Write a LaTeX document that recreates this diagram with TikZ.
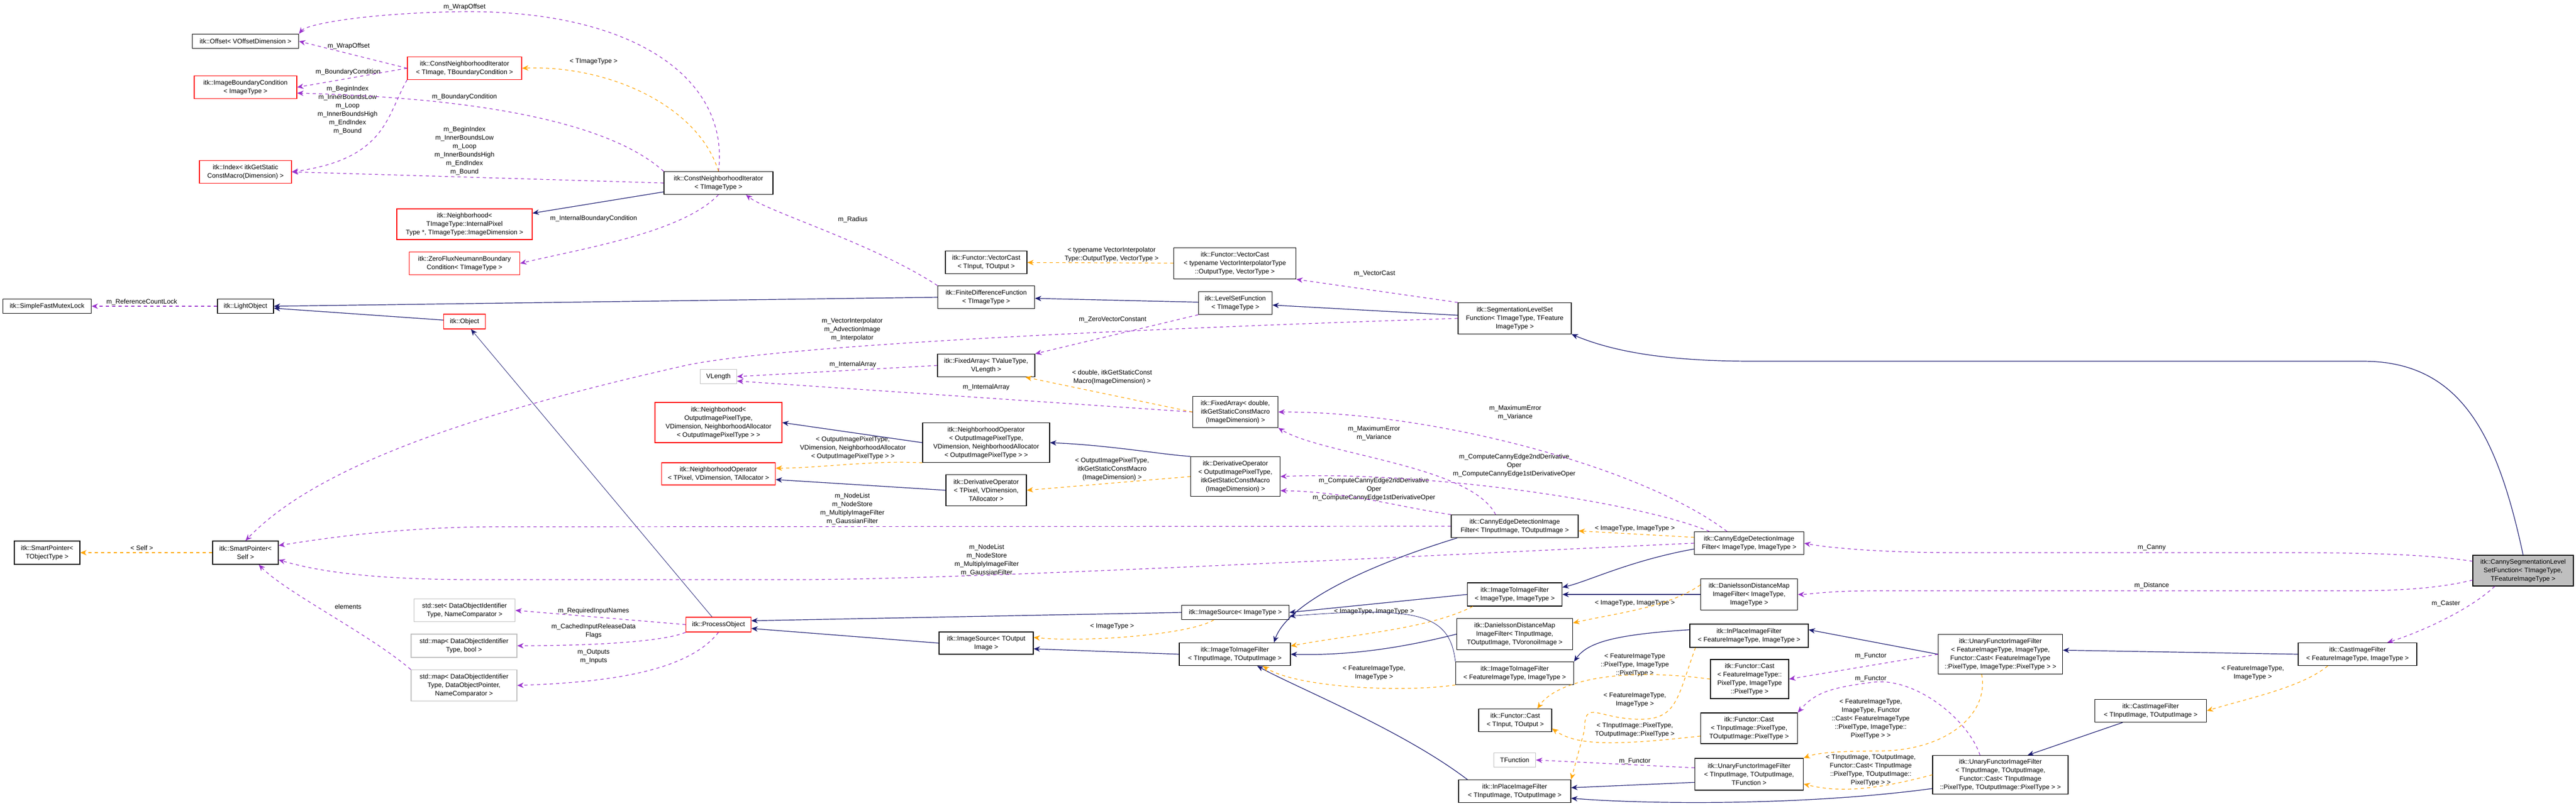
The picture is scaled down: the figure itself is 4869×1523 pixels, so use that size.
\documentclass[tikz,border=0pt]{standalone}
\usepackage{fontspec}
\setmainfont{Liberation Sans}
\usetikzlibrary{arrows.meta,calc}
\definecolor{navy}{RGB}{25,25,112}
\definecolor{usec}{RGB}{153,50,204}
\definecolor{tmplc}{RGB}{255,165,0}
\definecolor{grayb}{RGB}{191,191,191}
\tikzset{
  box/.style={draw=black,fill=white,line width=0.6pt,align=center,inner sep=1pt,font=\fontsize{6.2}{8}\selectfont},
  redbox/.style={box,draw=red},
  graybox/.style={box,draw=grayb},
  wh/.style 2 args={minimum width=#1*0.5pt,minimum height=#2*0.5pt},
  lbl/.style={align=center,inner sep=0pt,font=\fontsize{6.2}{8}\selectfont},
  inh/.style={draw=navy,line width=0.6pt,-{Stealth[length=6pt,width=5pt]}},
  use/.style={draw=usec,dashed,line width=0.6pt,-{Stealth[length=6pt,width=5pt]}},
  tmpl/.style={draw=tmplc,dashed,line width=0.6pt,-{Stealth[length=6pt,width=5pt]}},
}
\begin{document}
\begin{tikzpicture}[x=0.5pt,y=-0.5pt]
\useasboundingbox[fill=white] (0,0) rectangle (4869,1523);
% nodes
\node[box,wh={201}{27}] (off) at (464,78) {itk::Offset< VOffsetDimension >};
\node[redbox,wh={216}{43}] (cnib) at (878,129) {itk::ConstNeighborhoodIterator\\< TImage, TBoundaryCondition >};
\node[redbox,wh={194}{43}] (ibc) at (464,165) {itk::ImageBoundaryCondition\\< ImageType >};
\node[redbox,wh={174}{43}] (idx) at (464,325) {itk::Index< itkGetStatic\\ConstMacro(Dimension) >};
\node[box,wh={206}{43}] (cni) at (1358,346) {itk::ConstNeighborhoodIterator\\< TImageType >};
\node[redbox,wh={256}{58}] (nbh) at (878,424) {itk::Neighborhood<\\ TImageType::InternalPixel\\Type *, TImageType::ImageDimension >};
\node[redbox,wh={209}{43}] (zfn) at (878,498) {itk::ZeroFluxNeumannBoundary\\Condition< TImageType >};
\node[box,wh={167}{27}] (sfml) at (89,579) {itk::SimpleFastMutexLock};
\node[box,wh={106}{27}] (lo) at (464,579) {itk::LightObject};
\node[redbox,wh={79}{28}] (obj) at (878,608) {itk::Object};
\node[graybox,wh={69}{27}] (vlen) at (1358,712) {VLength};
\node[redbox,wh={240}{76}] (nbh2) at (1358,799) {itk::Neighborhood<\\ OutputImagePixelType,\\ VDimension, NeighborhoodAllocator\\< OutputImagePixelType > >};
\node[redbox,wh={215}{42}] (nopT) at (1358,896) {itk::NeighborhoodOperator\\< TPixel, VDimension, TAllocator >};
\node[box,wh={124}{44}] (spT) at (89,1045) {itk::SmartPointer<\\ TObjectType >};
\node[box,wh={124}{44}] (sps) at (464,1045) {itk::SmartPointer<\\ Self >};
\node[graybox,wh={191}{43}] (sset) at (878,1154) {std::set< DataObjectIdentifier\\Type, NameComparator >};
\node[graybox,wh={200}{44}] (smapb) at (877,1221) {std::map< DataObjectIdentifier\\Type, bool >};
\node[graybox,wh={200}{59}] (smapp) at (877,1296) {std::map< DataObjectIdentifier\\Type, DataObjectPointer,\\ NameComparator >};
\node[redbox,wh={123}{28}] (po) at (1358,1181) {itk::ProcessObject};
\node[box,wh={154}{43}] (fvcT) at (1864,496) {itk::Functor::VectorCast\\< TInput, TOutput >};
\node[box,wh={231}{59}] (fvc) at (2334,498) {itk::Functor::VectorCast\\< typename VectorInterpolatorType\\::OutputType, VectorType >};
\node[box,wh={183}{43}] (fdf) at (1864,562) {itk::FiniteDifferenceFunction\\< TImageType >};
\node[box,wh={139}{43}] (lsf) at (2335,573) {itk::LevelSetFunction\\< TImageType >};
\node[box,wh={214}{59}] (slsf) at (2863,602) {itk::SegmentationLevelSet\\Function< TImageType, TFeature\\ImageType >};
\node[box,wh={184}{43}] (faT) at (1864,691) {itk::FixedArray< TValueType,\\ VLength >};
\node[box,wh={161}{59}] (fad) at (2335,779) {itk::FixedArray< double,\\ itkGetStaticConstMacro\\(ImageDimension) >};
\node[box,wh={240}{75}] (nopO) at (1864,837) {itk::NeighborhoodOperator\\< OutputImagePixelType,\\ VDimension, NeighborhoodAllocator\\< OutputImagePixelType > >};
\node[box,wh={152}{59}] (dopT) at (1864,927) {itk::DerivativeOperator\\< TPixel, VDimension,\\ TAllocator >};
\node[box,wh={169}{75}] (dopO) at (2335,901) {itk::DerivativeOperator\\< OutputImagePixelType,\\ itkGetStaticConstMacro\\(ImageDimension) >};
\node[box,wh={240}{43}] (ceT) at (2863,995) {itk::CannyEdgeDetectionImage\\Filter< TInputImage, TOutputImage >};
\node[box,wh={179}{44}] (itiII) at (2863,1124) {itk::ImageToImageFilter\\< ImageType, ImageType >};
\node[box,wh={203}{27}] (isI) at (2335,1158) {itk::ImageSource< ImageType >};
\node[box,wh={219}{59}] (daT) at (2863,1199) {itk::DanielssonDistanceMap\\ImageFilter< TInputImage,\\ TOutputImage, TVoronoiImage >};
\node[box,wh={178}{42}] (isT) at (1864,1216) {itk::ImageSource< TOutput\\Image >};
\node[box,wh={210}{43}] (itiT) at (2334,1237) {itk::ImageToImageFilter\\< TInputImage, TOutputImage >};
\node[box,wh={223}{43}] (itiF) at (2863,1273) {itk::ImageToImageFilter\\< FeatureImageType, ImageType >};
\node[box,wh={138}{43}] (fcT) at (2864,1362) {itk::Functor::Cast\\< TInput, TOutput >};
\node[graybox,wh={79}{27}] (tfun) at (2863,1437) {TFunction};
\node[box,wh={212}{43}] (ipT) at (2863,1496) {itk::InPlaceImageFilter\\< TInputImage, TOutputImage >};
\node[box,wh={207}{43}] (ceI) at (3306,1027) {itk::CannyEdgeDetectionImage\\Filter< ImageType, ImageType >};
\node[box,wh={183}{59}] (daI) at (3306,1124) {itk::DanielssonDistanceMap\\ImageFilter< ImageType,\\ ImageType >};
\node[box,wh={224}{44}] (ipF) at (3306,1202) {itk::InPlaceImageFilter\\< FeatureImageType, ImageType >};
\node[box,wh={148}{74}] (fcF) at (3307,1284) {itk::Functor::Cast\\< FeatureImageType::\\PixelType, ImageType\\::PixelType >};
\node[box,wh={183}{58}] (fcIP) at (3306,1377) {itk::Functor::Cast\\< TInputImage::PixelType,\\ TOutputImage::PixelType >};
\node[box,wh={205}{60}] (ufT) at (3306,1464) {itk::UnaryFunctorImageFilter\\< TInputImage, TOutputImage,\\ TFunction >};
\node[box,wh={235}{75}] (ufF) at (3781,1237) {itk::UnaryFunctorImageFilter\\< FeatureImageType, ImageType,\\ Functor::Cast< FeatureImageType\\::PixelType, ImageType::PixelType > >};
\node[box,wh={256}{73}] (ufC) at (3781,1465) {itk::UnaryFunctorImageFilter\\< TInputImage, TOutputImage,\\ Functor::Cast< TInputImage\\::PixelType, TOutputImage::PixelType > >};
\node[box,wh={224}{43}] (cfF) at (4456,1237) {itk::CastImageFilter\\< FeatureImageType, ImageType >};
\node[box,wh={211}{43}] (cfT) at (4065,1344) {itk::CastImageFilter\\< TInputImage, TOutputImage >};
\node[box,fill=grayb,wh={190}{58}] (cseg) at (4769,1079) {itk::CannySegmentationLevel\\SetFunction< TImageType,\\ TFeatureImageType >};
% labels
\node[lbl] (l1) at (878,13) {m\_WrapOffset};
\node[lbl] (l2) at (659,87) {m\_WrapOffset};
\node[lbl] (l3) at (1122,117) {< TImageType >};
\node[lbl] (l4) at (658,136) {m\_BoundaryCondition};
\node[lbl] (l5) at (657,208) {m\_BeginIndex\\m\_InnerBoundsLow\\m\_Loop\\m\_InnerBoundsHigh\\m\_EndIndex\\m\_Bound};
\node[lbl] (l6) at (878,183) {m\_BoundaryCondition};
\node[lbl] (l7) at (878,285) {m\_BeginIndex\\m\_InnerBoundsLow\\m\_Loop\\m\_InnerBoundsHigh\\m\_EndIndex\\m\_Bound};
\node[lbl] (l8) at (1122,413) {m\_InternalBoundaryCondition};
\node[lbl] (l9) at (268,571) {m\_ReferenceCountLock};
\node[lbl] (l10) at (268,1036) {< Self >};
\node[lbl] (l11) at (658,1147) {elements};
\node[lbl] (l12) at (1122,1155) {m\_RequiredInputNames};
\node[lbl] (l13) at (1122,1193) {m\_CachedInputReleaseData\\Flags};
\node[lbl] (l14) at (1122,1241) {m\_Outputs\\m\_Inputs};
\node[lbl] (l15) at (1612,415) {m\_Radius};
\node[lbl] (l16) at (2101,481) {< typename VectorInterpolator\\Type::OutputType, VectorType >};
\node[lbl] (l17) at (2598,517) {m\_VectorCast};
\node[lbl] (l18) at (1611,623) {m\_VectorInterpolator\\m\_AdvectionImage\\m\_Interpolator};
\node[lbl] (l19) at (2103,604) {m\_ZeroVectorConstant};
\node[lbl] (l20) at (1612,689) {m\_InternalArray};
\node[lbl] (l21) at (2102,713) {< double, itkGetStaticConst\\Macro(ImageDimension) >};
\node[lbl] (l22) at (1864,732) {m\_InternalArray};
\node[lbl] (l23) at (2864,780) {m\_MaximumError\\m\_Variance};
\node[lbl] (l24) at (2597,819) {m\_MaximumError\\m\_Variance};
\node[lbl] (l25) at (1612,847) {< OutputImagePixelType,\\ VDimension, NeighborhoodAllocator\\< OutputImagePixelType > >};
\node[lbl] (l26) at (2102,887) {< OutputImagePixelType,\\ itkGetStaticConstMacro\\(ImageDimension) >};
\node[lbl] (l27) at (2862,880) {m\_ComputeCannyEdge2ndDerivative\\Oper\\m\_ComputeCannyEdge1stDerivativeOper};
\node[lbl] (l28) at (2597,925) {m\_ComputeCannyEdge2ndDerivative\\Oper\\m\_ComputeCannyEdge1stDerivativeOper};
\node[lbl] (l29) at (1611,962) {m\_NodeList\\m\_NodeStore\\m\_MultiplyImageFilter\\m\_GaussianFilter};
\node[lbl] (l30) at (3090,999) {< ImageType, ImageType >};
\node[lbl] (l31) at (1865,1059) {m\_NodeList\\m\_NodeStore\\m\_MultiplyImageFilter\\m\_GaussianFilter};
\node[lbl] (l32) at (2597,1156) {< ImageType, ImageType >};
\node[lbl] (l33) at (3090,1140) {< ImageType, ImageType >};
\node[lbl] (l34) at (2102,1184) {< ImageType >};
\node[lbl] (l35) at (2597,1272) {< FeatureImageType,\\ ImageType >};
\node[lbl] (l36) at (3090,1257) {< FeatureImageType\\::PixelType, ImageType\\::PixelType >};
\node[lbl] (l37) at (3090,1323) {< FeatureImageType,\\ ImageType >};
\node[lbl] (l38) at (3090,1380) {< TInputImage::PixelType,\\ TOutputImage::PixelType >};
\node[lbl] (l39) at (3090,1439) {m\_Functor};
\node[lbl] (l40) at (4067,1035) {m\_Canny};
\node[lbl] (l41) at (4067,1107) {m\_Distance};
\node[lbl] (l42) at (4623,1141) {m\_Caster};
\node[lbl] (l43) at (3536,1240) {m\_Functor};
\node[lbl] (l44) at (3536,1283) {m\_Functor};
\node[lbl] (l45) at (3536,1359) {< FeatureImageType,\\ ImageType, Functor\\::Cast< FeatureImageType\\::PixelType, ImageType::\\PixelType > >};
\node[lbl] (l46) at (3536,1456) {< TInputImage, TOutputImage,\\ Functor::Cast< TInputImage\\::PixelType, TOutputImage::\\PixelType > >};
\node[lbl] (l47) at (4258,1272) {< FeatureImageType,\\ ImageType >};
% edges
\draw[use] (cni.north) .. controls (1380,150) and (1200,20) .. (878,22) .. controls (700,24) and (580,45) .. (off.north east);
\draw[use] (cnib.west) -- (off.east);
\draw[use] (cnib.west) -- (ibc.east);
\draw[use] (cnib.south west) .. controls (730,220) and (730,300) .. (idx.east);
\draw[use] (cni.north west) .. controls (1150,230) and (900,185) .. ($(ibc.east)!0.5!(ibc.south east)$);
\draw[use] (cni.west) -- (idx.east);
\draw[tmpl] (cni.north) .. controls (1320,200) and (1150,123) .. (cnib.east);
\draw[inh] (cni) -- (nbh);
\draw[use] (cni.south) .. controls (1290,440) and (1100,470) .. (zfn.east);
\draw[use] (fdf.north west) .. controls (1650,460) and (1450,400) .. ($(cni.south)!0.5!(cni.south east)$);
\draw[use] (lo) -- (sfml);
\draw[inh] (fdf.west) -- (lo.east);
\draw[inh] (obj) -- (lo);
\draw[inh] (lsf) -- (fdf);
\draw[inh] (slsf) -- (lsf);
\draw[inh] (cseg.north) .. controls (4720,820) and (4650,683) .. (4466,683) -- (3314,683) .. controls (3150,683) and (3050,665) .. (slsf.south east);
\draw[inh,line width=0.4pt] (po) -- (obj);
\draw[tmpl] (sps) -- (spT);
\draw[tmpl] (fvc) -- (fvcT);
\draw[use] (slsf.north west) -- (fvc.south east);
\draw[use] (slsf.west) .. controls (2200,620) and (1500,650) .. (1300,690) .. controls (900,780) and (600,880) .. (sps.north);
\draw[use] (lsf.south west) -- (faT.north east);
\draw[use] (faT.west) -- (vlen.east);
\draw[use] (fad.west) -- ($(vlen.east)!0.6!(vlen.south east)$);
\draw[tmpl] (fad.west) -- ($(faT.south)!0.8!(faT.south east)$);
\draw[inh] (nopO.west) -- (nbh2.east);
\draw[tmpl] (nopO.south west) .. controls (1650,870) and (1550,885) .. ($(nopT.east)!0.5!(nopT.north east)$);
\draw[inh] (dopT.west) -- ($(nopT.east)!0.5!(nopT.south east)$);
\draw[inh] (dopO.north west) .. controls (2200,860) and (2100,842) .. (nopO.east);
\draw[tmpl] (dopO.west) -- (dopT.east);
\draw[use] ($(ceT.north west)!0.35!(ceT.north east)$) .. controls (2780,880) and (2500,860) .. (fad.south east);
\draw[use] (ceT.north west) .. controls (2650,960) and (2550,930) .. ($(dopO.east)!0.7!(dopO.south east)$);
\draw[use] (ceT.west) -- (940,996) .. controls (750,996) and (600,1020) .. ($(sps.east)!0.6!(sps.north east)$);
\draw[use] ($(ceI.north west)!0.3!(ceI.north east)$) .. controls (3100,880) and (2700,778) .. (fad.east);
\draw[use] ($(ceI.north west)!0.14!(ceI.north east)$) .. controls (3100,950) and (2700,890) .. (dopO.east);
\draw[use] (ceI.west) .. controls (2500,1060) and (1800,1096) .. (1500,1096) -- (900,1096) .. controls (700,1096) and (600,1080) .. ($(sps.east)!0.6!(sps.south east)$);
\draw[use] (po.west) -- (sset.east);
\draw[use] (po.south west) .. controls (1250,1215) and (1100,1221) .. (smapb.east);
\draw[use] (po.south) .. controls (1300,1270) and (1150,1290) .. (smapp.east);
\draw[use] (smapp.north west) .. controls (700,1200) and (540,1120) .. ($(sps.south)!0.4!(sps.south east)$);
\draw[inh] (isI.west) -- ($(po.east)!0.5!(po.north east)$);
\draw[inh] (isT.west) -- ($(po.east)!0.5!(po.south east)$);
\draw[tmpl] ($(isI.south west)!0.3!(isI.south east)$) .. controls (2250,1200) and (2050,1215) .. ($(isT.east)!0.5!(isT.north east)$);
\draw[inh] (itiT.west) -- ($(isT.east)!0.5!(isT.south east)$);
\draw[inh] (itiII.west) -- (isI.east);
\draw[inh] ($(ceT.south west)!0.05!(ceT.south east)$) .. controls (2550,1080) and (2430,1150) .. ($(itiT.north)!0.7!(itiT.north east)$);
\draw[inh] (daT.west) .. controls (2650,1225) and (2550,1240) .. (itiT.east);
\draw[inh] ($(ipT.north west)!0.08!(ipT.north east)$) .. controls (2650,1380) and (2450,1300) .. ($(itiT.south)!0.4!(itiT.south east)$);
\draw[inh,line width=0.4pt] (itiF.north west) .. controls (2740,1160) and (2680,1146) .. ($(isI.east)!0.5!(isI.south east)$);
\draw[tmpl] ($(itiII.south west)!0.06!(itiII.south east)$) .. controls (2700,1190) and (2550,1200) .. ($(itiT.north east)!0.3!(itiT.east)$);
\draw[tmpl] (itiF.south west) .. controls (2650,1310) and (2450,1300) .. ($(itiT.south)!0.5!(itiT.south east)$);
\draw[inh] ($(ceI.west)!0.5!(ceI.south west)$) .. controls (3080,1060) and (3000,1100) .. ($(itiII.east)!0.6!(itiII.north east)$);
\draw[inh] (daI.west) -- (itiII.east);
\draw[inh] ($(ipF.west)!0.5!(ipF.north west)$) .. controls (3050,1200) and (3000,1215) .. (itiF.north east);
\draw[tmpl] ($(ceI.west)!0.5!(ceI.north west)$) -- ($(ceT.east)!0.4!(ceT.south east)$);
\draw[tmpl] ($(daI.west)!0.6!(daI.north west)$) .. controls (3150,1150) and (3050,1160) .. ($(daT.east)!0.7!(daT.north east)$);
\draw[tmpl] (fcF.west) .. controls (3050,1260) and (2940,1290) .. ($(fcT.north)!0.6!(fcT.north east)$);
\draw[tmpl] ($(fcIP.west)!0.5!(fcIP.south west)$) .. controls (3050,1410) and (2980,1410) .. ($(fcT.east)!0.7!(fcT.south east)$);
\draw[tmpl] ($(ipF.south west)!0.05!(ipF.south east)$) .. controls (3170,1320) and (3170,1360) .. (3100,1360) .. controls (3020,1360) and (2995,1320) .. (2995,1380) -- (ipT.north east);
\draw[inh] (ufF.west) -- ($(ipF.east)!0.5!(ipF.north east)$);
\draw[inh] (cfF.west) -- ($(ufF.east)!0.2!(ufF.north east)$);
\draw[use] (ufF.west) -- (fcF.east);
\draw[use] ($(ufC.north west)!0.35!(ufC.north east)$) .. controls (3720,1360) and (3620,1280) .. (3540,1290) .. controls (3460,1300) and (3430,1310) .. (fcIP.north east);
\draw[tmpl] ($(ufF.south west)!0.35!(ufF.south east)$) .. controls (3760,1350) and (3680,1420) .. (3550,1420) .. controls (3460,1420) and (3430,1425) .. (ufT.north east);
\draw[tmpl] (ufC.west) .. controls (3550,1492) and (3480,1500) .. ($(ufT.east)!0.6!(ufT.south east)$);
\draw[inh] ($(ufT.west)!0.5!(ufT.south west)$) -- ($(ipT.east)!0.3!(ipT.north east)$);
\draw[inh] ($(ufC.west)!0.7!(ufC.south west)$) .. controls (3400,1525) and (3100,1520) .. ($(ipT.east)!0.6!(ipT.south east)$);
\draw[use] ($(ufT.west)!0.4!(ufT.north west)$) -- (tfun.east);
\draw[inh] ($(cfT.south west)!0.25!(cfT.south east)$) -- ($(ufC.north)!0.4!(ufC.north east)$);
\draw[tmpl] ($(cfF.south west)!0.25!(cfF.south east)$) .. controls (4350,1300) and (4250,1320) .. (cfT.east);
\draw[use] ($(cseg.west)!0.6!(cseg.north west)$) .. controls (4600,1050) and (4500,1045) .. (4330,1045) -- (3700,1045) .. controls (3550,1045) and (3450,1035) .. (ceI.east);
\draw[use] ($(cseg.west)!0.6!(cseg.south west)$) .. controls (4620,1110) and (4550,1117) .. (4450,1117) -- (3550,1117) .. controls (3450,1117) and (3420,1124) .. (daI.east);
\draw[use] ($(cseg.south west)!0.22!(cseg.south east)$) .. controls (4660,1160) and (4560,1200) .. ($(cfF.north)!0.5!(cfF.north east)$);
\end{tikzpicture}
\end{document}
